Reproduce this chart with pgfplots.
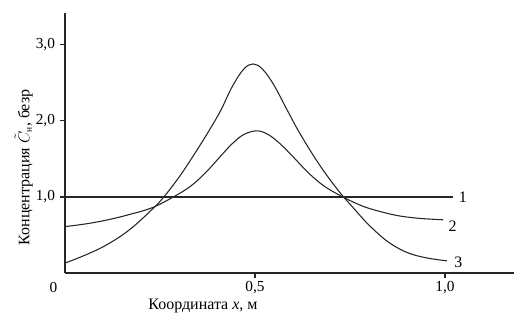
\documentclass[border=0pt]{standalone}
\usepackage{fontspec}
\setmainfont{Liberation Serif}
\usepackage{pgfplots}
\pgfplotsset{compat=1.18}
\begin{document}
\begin{tikzpicture}
\begin{axis}[
 scale only axis, width=336.75pt, height=195pt,
 xmin=0, xmax=1.1816, ymin=0, ymax=3.42,
 axis lines=left, axis line style={-, line width=0.8pt, black!85},
 xtick={0.5,1.0}, xticklabels={{0,5},{1,0}},
 ytick={1,2,3}, yticklabels={{1,0},{2,0},{3,0}},
 tick align=outside, major tick length=4pt, tick style={line width=0.8pt, black!85},
 ticklabel style={font=\fontsize{11.5}{13}\selectfont},
 xticklabel style={yshift=1pt},
 clip=false,
 every axis plot/.append style={line width=0.8pt, black!85},
]
% curve 1
\addplot[no marks] coordinates {(0,1.0) (1.02,1.0)};
% curve 2
\addplot[no marks, smooth, tension=0.6] coordinates {
(0,0.61) (0.06,0.65) (0.113,0.70) (0.17,0.77) (0.23,0.86) (0.285,1.0)
(0.33,1.14) (0.37,1.32) (0.41,1.54) (0.44,1.70) (0.47,1.82) (0.505,1.87)
(0.535,1.82) (0.566,1.70) (0.60,1.53) (0.64,1.32) (0.68,1.15) (0.72,1.03)
(0.76,0.93) (0.80,0.85) (0.87,0.76) (0.93,0.72) (0.995,0.70)};
% curve 3
\addplot[no marks, smooth, tension=0.6] coordinates {
(0,0.13) (0.06,0.25) (0.113,0.38) (0.17,0.57) (0.23,0.84) (0.26,1.0)
(0.30,1.26) (0.34,1.56) (0.38,1.88) (0.41,2.14) (0.44,2.45) (0.47,2.68)
(0.495,2.75) (0.52,2.68) (0.55,2.47) (0.585,2.14) (0.62,1.82) (0.67,1.42)
(0.72,1.08) (0.76,0.85) (0.80,0.63) (0.85,0.41) (0.90,0.27) (0.95,0.20)
(1.005,0.16)};
\node[font=\fontsize{12}{14}\selectfont] at (axis cs:1.047,1.0) {1};
\node[font=\fontsize{12}{14}\selectfont] at (axis cs:1.02,0.62) {2};
\node[font=\fontsize{12}{14}\selectfont] at (axis cs:1.035,0.14) {3};
\node[font=\fontsize{11.5}{13}\selectfont] at ([xshift=-8.6pt, yshift=-10.5pt]axis cs:0,0) {0};
\node[font=\fontsize{12}{14}\selectfont] at ([yshift=-24.5pt]axis cs:0.363,0) {Координата \textit{x}, м};
\node[font=\fontsize{12}{14}\selectfont, rotate=90] at ([xshift=-31pt]axis cs:0,1.39) {Концентрация $\tilde{C}_{\mbox{\scriptsize н}}$, безр};
\end{axis}
\pgfresetboundingbox
\path (-48.75pt,-33pt) rectangle (336.75pt,204.75pt);
\end{tikzpicture}
\end{document}
